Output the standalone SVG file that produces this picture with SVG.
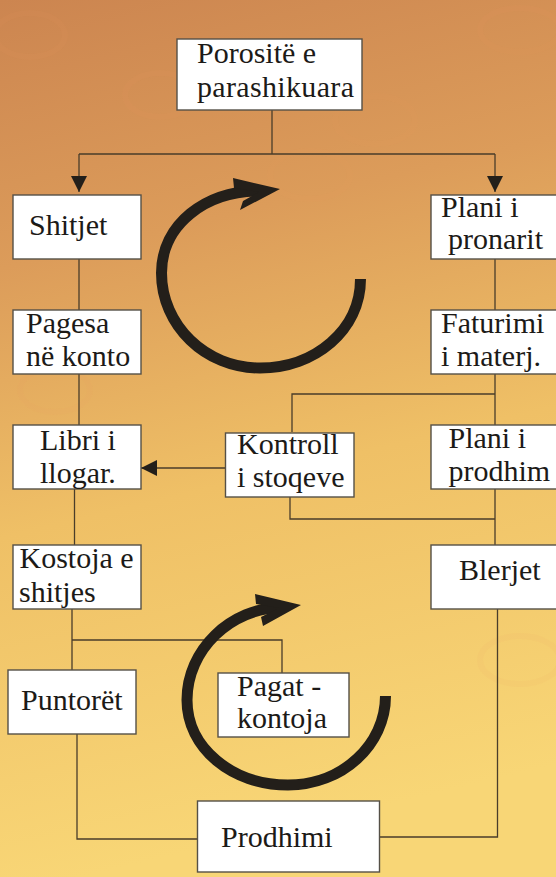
<svg xmlns="http://www.w3.org/2000/svg" width="556" height="877" viewBox="0 0 556 877">
<defs>
<linearGradient id="bg" x1="0" y1="0" x2="0.15" y2="1">
<stop offset="0" stop-color="#cc8550"/>
<stop offset="0.3" stop-color="#dc9c5a"/>
<stop offset="0.6" stop-color="#efc066"/>
<stop offset="1" stop-color="#f8d676"/>
</linearGradient>
<marker id="ah" viewBox="0 0 16 16" refX="16" refY="8" markerWidth="16" markerHeight="16" markerUnits="userSpaceOnUse" orient="auto">
<path d="M0,0 L16,8 L0,16 Z" fill="#231f1a"/>
</marker>
<style>
.box{fill:#ffffff;stroke:#555047;stroke-width:1.4}
.ln{fill:none;stroke:#4a3d2a;stroke-width:1.3}
.cyc{fill:none;stroke:#231f1a;stroke-width:11}
.hd{fill:#231f1a}
.deco{fill:none;stroke:#f0a060;stroke-width:6;opacity:0.07}
</style>
</defs>
<rect x="0" y="0" width="556" height="877" fill="url(#bg)"/>
<g id="decor">
<ellipse class="deco" cx="30" cy="35" rx="35" ry="22"/>
<ellipse class="deco" cx="160" cy="95" rx="35" ry="22"/>
<ellipse class="deco" cx="375" cy="120" rx="40" ry="24"/>
<ellipse class="deco" cx="310" cy="175" rx="40" ry="24"/>
<ellipse class="deco" cx="520" cy="30" rx="40" ry="22"/>
<ellipse class="deco" cx="55" cy="390" rx="35" ry="22"/>
<ellipse class="deco" cx="520" cy="660" rx="40" ry="24"/>
</g>
<g id="connectors">
<path class="ln" d="M272,110 V154 M79,154 H495"/>
<path class="ln" d="M79,154 V192" marker-end="url(#ah)"/>
<path class="ln" d="M495,154 V192" marker-end="url(#ah)"/>
<path class="ln" d="M79,259 V310 M79,374 V425"/>
<path class="ln" d="M495,259 V310 M495,374 V425 M495,489 V545"/>
<path class="ln" d="M292,432 V394 H495"/>
<path class="ln" d="M290,497 V519 H495"/>
<path class="ln" d="M225.5,468 H141" marker-end="url(#ah)"/>
<path class="ln" d="M74.5,489 V545"/>
<path class="ln" d="M72,609 V670 M72,640 H282 V673"/>
<path class="ln" d="M77,734 V839 H197.5"/>
<path class="ln" d="M497.5,609 V837 H379.5"/>
</g>
<g id="cycle-top">
<path class="cyc" d="M360.5,279 C360.5,330 315,368 260,368 C205,368 161.5,325 161.5,273 C161.5,225 205,190 262,191"/>
<polygon class="hd" points="233,178 280,189 240,210 243,201 259,192 234,188"/>
</g>
<g id="cycle-bottom">
<path class="cyc" d="M385.5,696 C385.5,745 342,785 288,785 C232,785 187,748 187,700 C187,650 230,608 283,607"/>
<polygon class="hd" points="255,594 301,605 263,626 261,617 279,608 256,604"/>
</g>
<g id="porosite">
<rect class="box" x="177" y="39" width="185" height="71"/>
<text x="197" y="63" font-family="Times New Roman" font-size="30" fill="#1c1a17">Porositë e</text>
<text x="197" y="97" font-family="Times New Roman" font-size="30" fill="#1c1a17" textLength="157">parashikuara</text>
</g>
<g id="shitjet">
<rect class="box" x="13" y="195" width="128" height="64"/>
<text x="29" y="235" font-family="Times New Roman" font-size="30" fill="#1c1a17">Shitjet</text>
</g>
<g id="plani-pronarit">
<rect class="box" x="431" y="195" width="130" height="64"/>
<text x="441" y="217" font-family="Times New Roman" font-size="30" fill="#1c1a17">Plani i</text>
<text x="448" y="249" font-family="Times New Roman" font-size="30" fill="#1c1a17">pronarit</text>
</g>
<g id="pagesa">
<rect class="box" x="13" y="310" width="128" height="64"/>
<text x="26" y="333" font-family="Times New Roman" font-size="30" fill="#1c1a17">Pagesa</text>
<text x="26" y="366" font-family="Times New Roman" font-size="30" fill="#1c1a17">në konto</text>
</g>
<g id="faturimi">
<rect class="box" x="431" y="310" width="130" height="64"/>
<text x="441" y="333" font-family="Times New Roman" font-size="30" fill="#1c1a17">Faturimi</text>
<text x="441" y="366" font-family="Times New Roman" font-size="30" fill="#1c1a17">i materj.</text>
</g>
<g id="libri">
<rect class="box" x="13" y="425" width="128" height="64"/>
<text x="40" y="450" font-family="Times New Roman" font-size="30" fill="#1c1a17">Libri i</text>
<text x="40" y="483" font-family="Times New Roman" font-size="30" fill="#1c1a17">llogar.</text>
</g>
<g id="kontroll">
<rect class="box" x="225.5" y="433" width="128.5" height="64"/>
<text x="237" y="454" font-family="Times New Roman" font-size="30" fill="#1c1a17">Kontroll</text>
<text x="237" y="487" font-family="Times New Roman" font-size="30" fill="#1c1a17">i stoqeve</text>
</g>
<g id="plani-prodhim">
<rect class="box" x="431" y="425" width="130" height="64"/>
<text x="448.5" y="448" font-family="Times New Roman" font-size="30" fill="#1c1a17">Plani i</text>
<text x="448.5" y="481" font-family="Times New Roman" font-size="30" fill="#1c1a17">prodhim</text>
</g>
<g id="kostoja">
<rect class="box" x="13" y="545" width="128" height="64"/>
<text x="19.5" y="568" font-family="Times New Roman" font-size="30" fill="#1c1a17">Kostoja e</text>
<text x="19" y="602" font-family="Times New Roman" font-size="30" fill="#1c1a17">shitjes</text>
</g>
<g id="blerjet">
<rect class="box" x="431" y="545" width="130" height="64"/>
<text x="459" y="580" font-family="Times New Roman" font-size="30" fill="#1c1a17">Blerjet</text>
</g>
<g id="puntoret">
<rect class="box" x="8" y="670" width="128" height="64"/>
<text x="21" y="710" font-family="Times New Roman" font-size="30" fill="#1c1a17">Puntorët</text>
</g>
<g id="pagat">
<rect class="box" x="218" y="673" width="131" height="64"/>
<text x="237" y="696" font-family="Times New Roman" font-size="30" fill="#1c1a17">Pagat -</text>
<text x="237" y="728" font-family="Times New Roman" font-size="30" fill="#1c1a17">kontoja</text>
</g>
<g id="prodhimi">
<rect class="box" x="197.5" y="801" width="182" height="71"/>
<text x="221" y="847" font-family="Times New Roman" font-size="30" fill="#1c1a17">Prodhimi</text>
</g>
</svg>
